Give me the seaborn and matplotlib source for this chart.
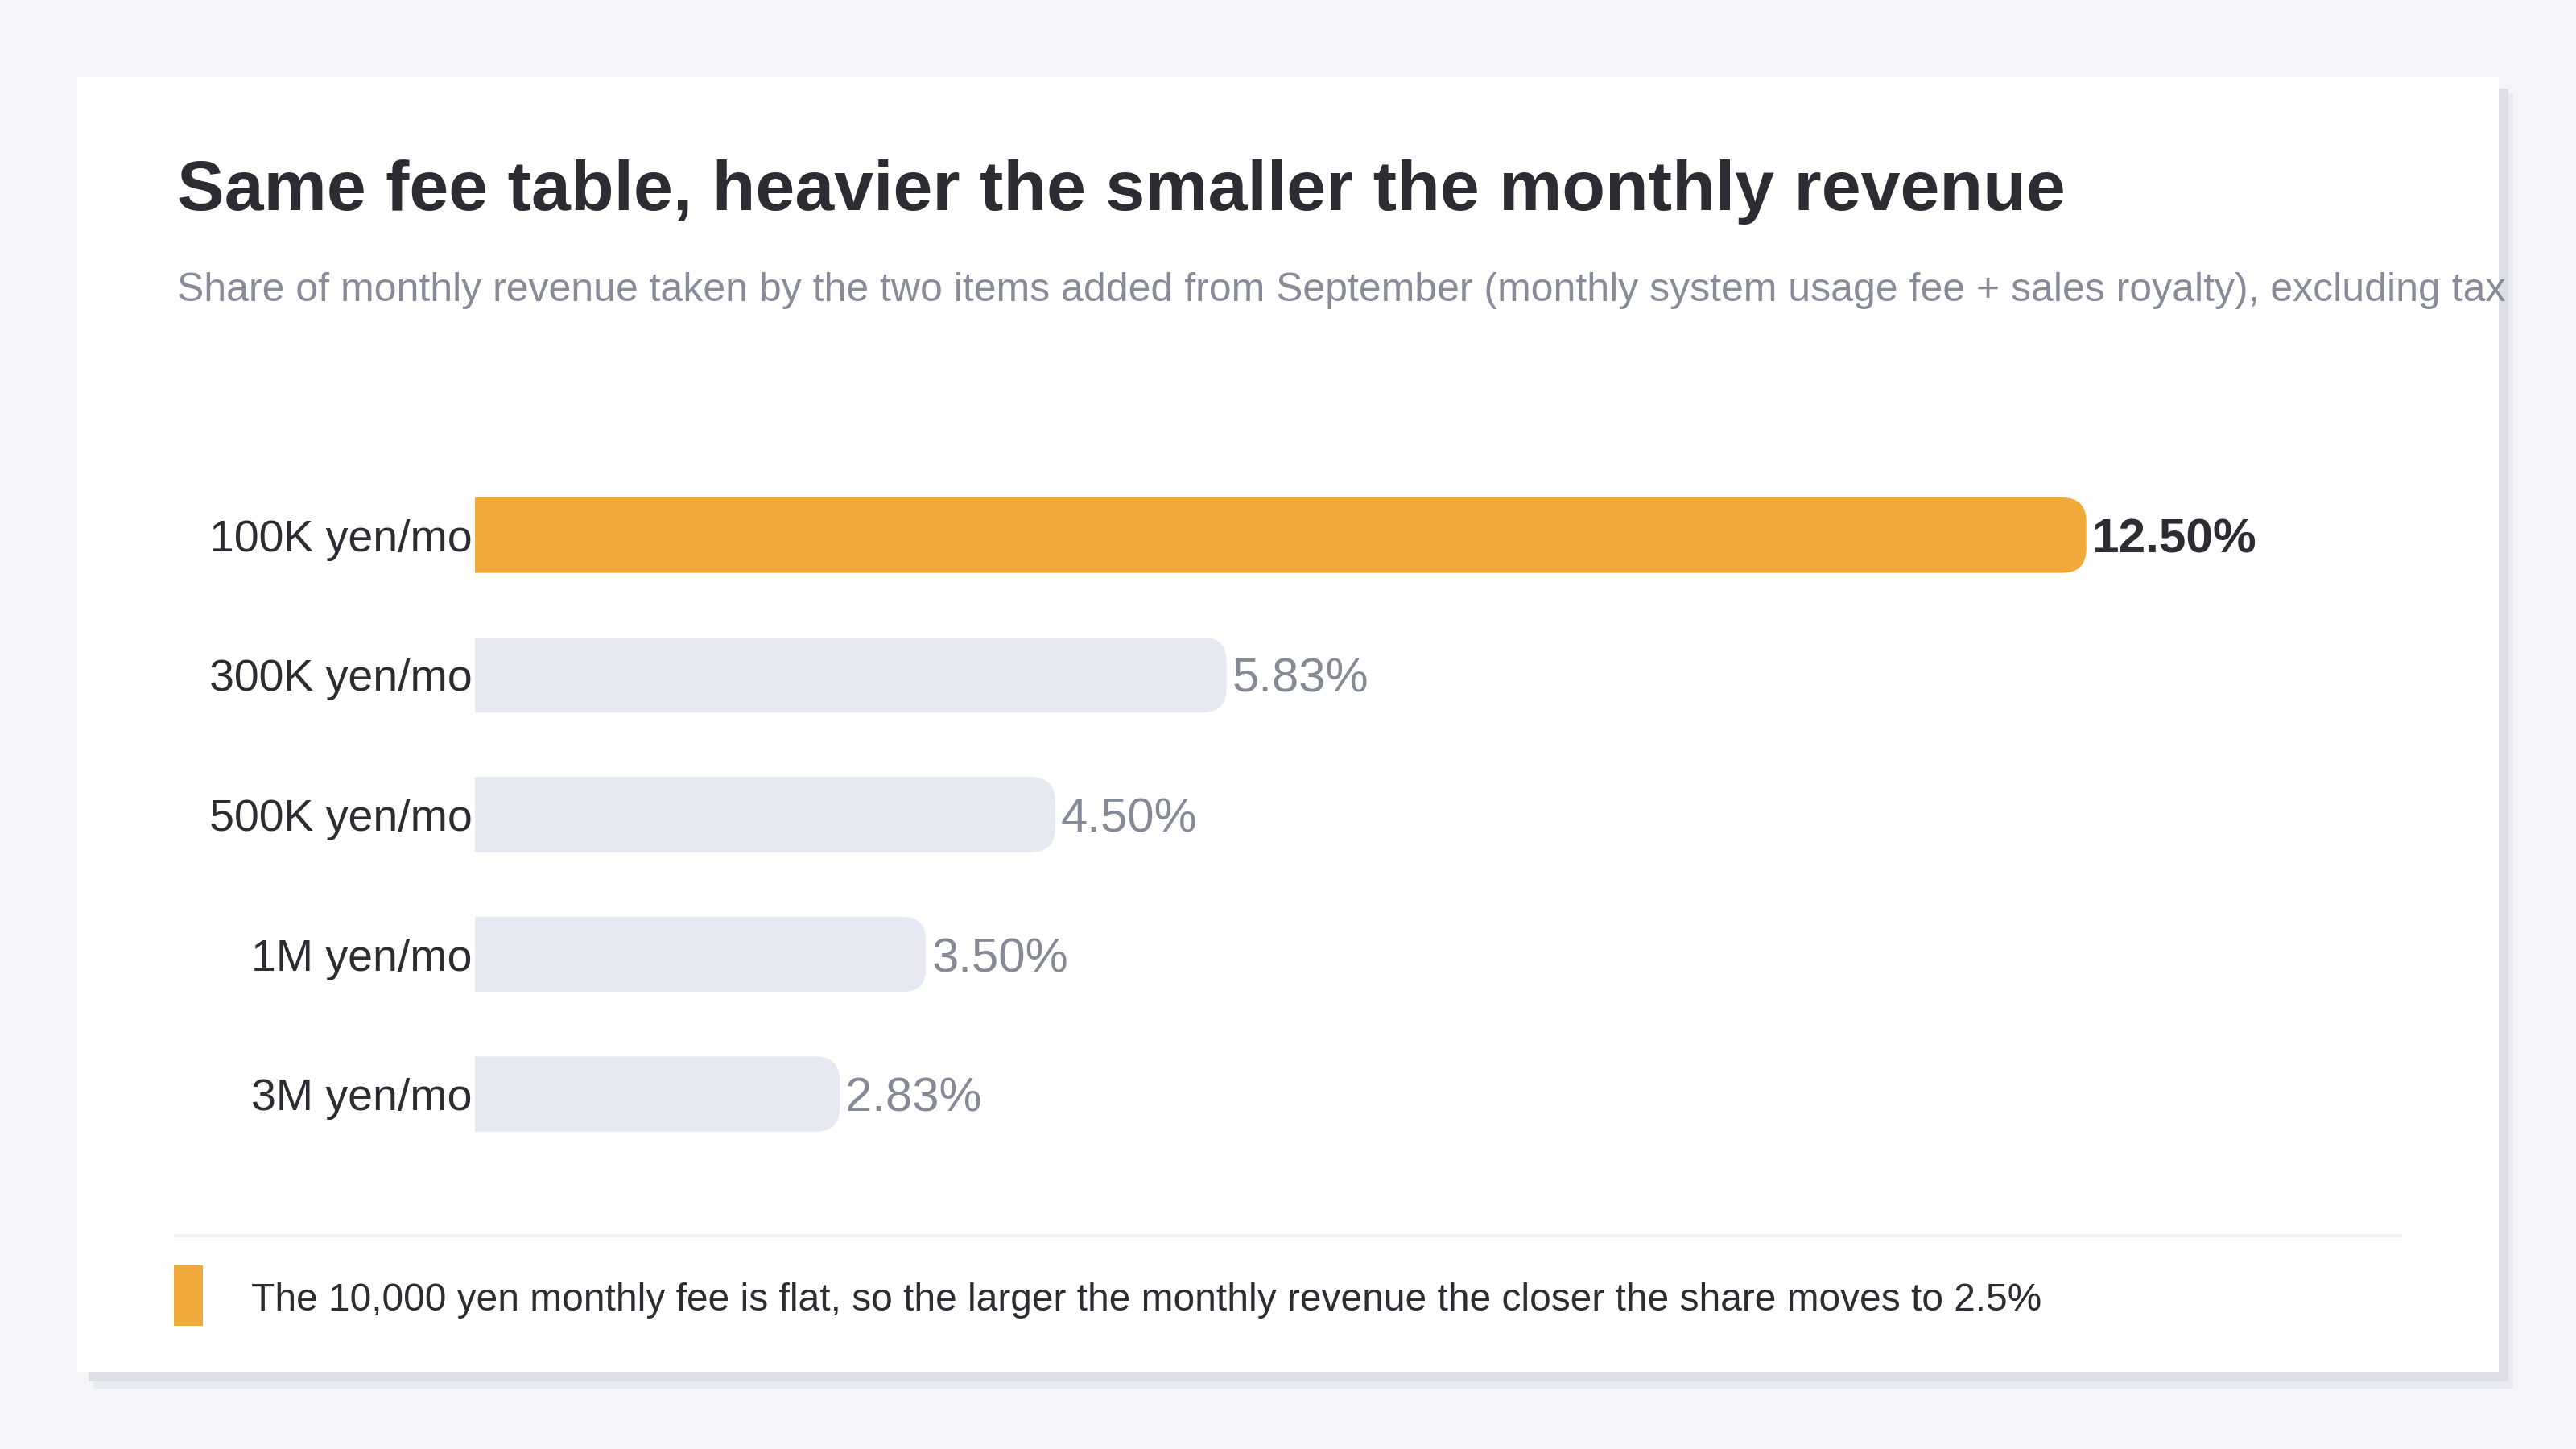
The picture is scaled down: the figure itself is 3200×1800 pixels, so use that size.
import matplotlib
matplotlib.use("Agg")
import matplotlib.pyplot as plt
from matplotlib.patches import Rectangle, FancyBboxPatch
from matplotlib.lines import Line2D
import seaborn as sns
import pandas as pd

categories = ["100K yen/mo", "300K yen/mo", "500K yen/mo", "1M yen/mo", "3M yen/mo"]
shares = [12.50, 5.83, 4.50, 3.50, 2.83]
value_labels = ["12.50%", "5.83%", "4.50%", "3.50%", "2.83%"]
highlight = "100K yen/mo"

title = "Same fee table, heavier the smaller the monthly revenue"
subtitle = ("Share of monthly revenue taken by the two items added from September "
            "(monthly system usage fee + sales royalty), excluding tax")
footnote = ("The 10,000 yen monthly fee is flat, so the larger the monthly revenue "
            "the closer the share moves to 2.5%")

ORANGE = "#f0a93b"
GREY_BAR = "#e6e9f1"
DARK = "#2b2d33"
MUTED = "#858a96"
BG = "#f4f5f9"

sns.set_theme(style="white")
plt.rcParams["font.family"] = ["Liberation Sans", "DejaVu Sans"]

W, H = 3200, 1800
fig = plt.figure(figsize=(32, 18), dpi=100)
fig.patch.set_facecolor(BG)


def fx(px):
    return px / W


def fy(py):
    return 1 - py / H


# card with shadow
card_l, card_t, card_r, card_b = 96, 96, 3104, 1704
fig.patches.append(Rectangle((fx(card_l + 20), fy(card_b + 21)), fx(card_r + 18 - card_l - 20),
                             (card_b + 21 - card_t - 20) / H, transform=fig.transFigure,
                             facecolor="#e8eaef", edgecolor="none", zorder=-3))
fig.patches.append(Rectangle((fx(card_l + 14), fy(card_b + 12)), fx(card_r + 12 - card_l - 14),
                             (card_b + 12 - card_t - 14) / H, transform=fig.transFigure,
                             facecolor="#dcdfe5", edgecolor="none", zorder=-2))
fig.patches.append(Rectangle((fx(card_l), fy(card_b)), fx(card_r - card_l),
                             (card_b - card_t) / H, transform=fig.transFigure,
                             facecolor="white", edgecolor="none", zorder=-1))

# axes
ax_l, ax_r = 590, 2992
ax_t, ax_b = 578, 1446
ax = fig.add_axes([fx(ax_l), fy(ax_b), fx(ax_r - ax_l), (ax_b - ax_t) / H])
ax.set_facecolor("none")
ax.set_zorder(2)

df = pd.DataFrame({"band": categories, "share": shares})
palette = {c: (ORANGE if c == highlight else GREY_BAR) for c in categories}
sns.barplot(data=df, x="share", y="band", hue="band", palette=palette, legend=False,
            width=0.54, saturation=1, ax=ax, order=categories)

ax.set_xlim(0, 15)
ax.set_ylim(4.5, -0.5)
ax.set_xlabel("")
ax.set_ylabel("")
ax.set_xticks([])
for s in ax.spines.values():
    s.set_visible(False)
ax.tick_params(axis="y", length=0, pad=2.5, labelsize=40, labelcolor=DARK)

# rounded right ends via clip paths
x_per_px = 15 / (ax_r - ax_l)
y_per_px = 5 / (ax_b - ax_t)
r_px = 30
aspect = y_per_px / x_per_px
r = r_px * x_per_px
for p in ax.patches:
    x0, y0 = p.get_x(), p.get_y()
    w, h = p.get_width(), p.get_height()
    clip = FancyBboxPatch((x0 - 2 * r, y0), w + 2 * r, h,
                          boxstyle=f"round,pad=0,rounding_size={r}",
                          mutation_aspect=aspect, transform=ax.transData,
                          facecolor="none", edgecolor="none")
    p.set_clip_path(clip)
    p.set_edgecolor("none")

for i, (c, v, lab) in enumerate(zip(categories, shares, value_labels)):
    hi = c == highlight
    ax.annotate(lab, xy=(v, i), xytext=(5, 0), textcoords="offset points",
                ha="left", va="center_baseline", fontsize=43.5 if hi else 43,
                fontweight="bold" if hi else "normal",
                color=DARK if hi else MUTED, annotation_clip=False)

# title & subtitle
fig.text(fx(220), fy(261), title, fontsize=63.3, fontweight="bold", color=DARK,
         ha="left", va="baseline")
fig.text(fx(220), fy(374), subtitle, fontsize=36, color="#878c98",
         ha="left", va="baseline", zorder=5)

# separator
fig.add_artist(Line2D([fx(218), fx(2982)], [fy(1535), fy(1535)], transform=fig.transFigure,
                      color="#eef0f4", linewidth=2.9))

# footnote
fig.patches.append(Rectangle((fx(216), fy(1647)), fx(36), 75 / H, transform=fig.transFigure,
                             facecolor=ORANGE, edgecolor="none", zorder=1))
fig.text(fx(312), fy(1628), footnote, fontsize=34.5, color=DARK, ha="left", va="baseline")

fig.savefig("out.png", dpi=100, facecolor=BG)
